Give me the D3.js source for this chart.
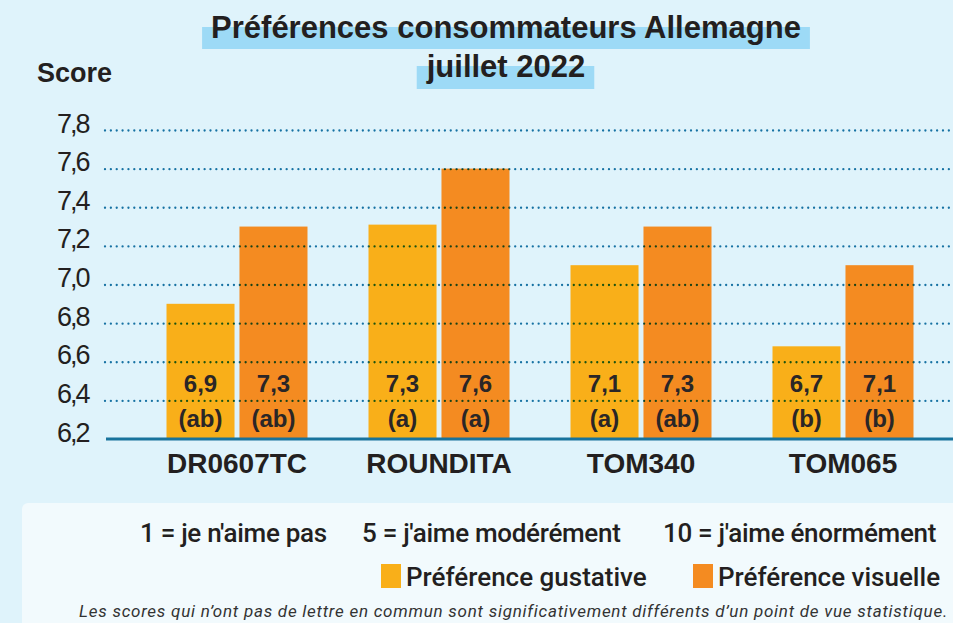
<!doctype html>
<html>
<head>
<meta charset="utf-8">
<script src="https://cdnjs.cloudflare.com/ajax/libs/d3/7.8.5/d3.min.js"></script>
<style>
  body { margin: 0; background: #dff3fb; }
  svg { display: block; font-family: "Liberation Sans", Arial, sans-serif; }
  .legend { font-family: Roboto, "Liberation Sans", sans-serif; }
</style>
</head>
<body>
<div id="viz"><svg width="953" height="623"></svg></div>
<script>
var categories = ["DR0607TC", "ROUNDITA", "TOM340", "TOM065"];
var series = ["Préférence gustative", "Préférence visuelle"];
var gustative = [6.9, 7.31, 7.1, 6.68];
var visuelle = [7.3, 7.6, 7.3, 7.1];
var labelsGustative = ["6,9", "7,3", "7,1", "6,7"];
var labelsVisuelle = ["7,3", "7,6", "7,3", "7,1"];
var lettersGustative = ["(ab)", "(a)", "(a)", "(b)"];
var lettersVisuelle = ["(ab)", "(a)", "(ab)", "(b)"];
var yTicks = [6.2, 6.4, 6.6, 6.8, 7.0, 7.2, 7.4, 7.6, 7.8];
var scaleNotes = ["1 = je n'aime pas", "5 = j'aime modérément", "10 = j'aime énormément"];

var colors = ["#f9af19", "#f48b21"];
var ink = "#231f20";

var svg = d3.select("svg");

var y = d3.scaleLinear().domain([6.2, 7.8]).range([439, 130]);
var x0 = d3.scaleBand().domain(categories).range([136, 944])
  .paddingInner(0.302).paddingOuter(0.151);
var x1 = d3.scaleBand().domain(series).range([0, x0.bandwidth()]).paddingInner(0.068);
var color = d3.scaleOrdinal().domain(series).range(colors);

// title with highlight bands
var titleLines = ["Préférences consommateurs Allemagne", "juillet 2022"];
var titleY = [38, 77];
var tg = svg.append("g");
titleLines.forEach(function (t, i) {
  var band = tg.append("rect").attr("fill", "#9ddaf6");
  var txt = tg.append("text")
    .attr("x", 506).attr("y", titleY[i])
    .attr("text-anchor", "middle")
    .style("font-size", "31px").style("font-weight", "bold")
    .attr("fill", ink).text(t);
  var b = txt.node().getBBox();
  band.attr("x", b.x - 9).attr("width", b.width + 18)
    .attr("y", titleY[i] - 11).attr("height", 22 + i);
});

svg.append("text").attr("x", 37).attr("y", 82)
  .style("font-size", "27px").style("font-weight", "bold")
  .attr("fill", ink).text("Score");

// bars
var rows = categories.map(function (c, i) {
  return [
    { cat: c, key: series[0], v: gustative[i], lab: labelsGustative[i], let: lettersGustative[i] },
    { cat: c, key: series[1], v: visuelle[i], lab: labelsVisuelle[i], let: lettersVisuelle[i] }
  ];
});

var groups = svg.append("g").selectAll("g")
  .data(rows).enter().append("g")
  .attr("transform", function (d) { return "translate(" + x0(d[0].cat) + ",0)"; });

groups.selectAll("rect")
  .data(function (d) { return d; })
  .enter().append("rect")
  .attr("x", function (d) { return x1(d.key); })
  .attr("width", x1.bandwidth())
  .attr("y", function (d) { return y(d.v); })
  .attr("height", function (d) { return y(6.2) - y(d.v); })
  .attr("fill", function (d) { return color(d.key); });

// dotted grid, drawn over the bars
var grid = svg.append("g")
  .attr("transform", "translate(105,0)")
  .style("mix-blend-mode", "multiply")
  .call(d3.axisRight(y).tickValues(yTicks.slice(1)).tickSize(848).tickFormat(""));
grid.select(".domain").remove();
grid.selectAll("line")
  .attr("stroke", "#1a78a6")
  .attr("stroke-width", 2.3)
  .attr("stroke-linecap", "round")
  .attr("stroke-dasharray", "0.01 5.85");

// value labels
var vl = groups.selectAll(".val")
  .data(function (d) { return d; })
  .enter().append("g").attr("class", "val");
vl.append("text")
  .attr("x", function (d) { return x1(d.key) + x1.bandwidth() / 2; })
  .attr("y", y(6.2) - 47)
  .text(function (d) { return d.lab; });
vl.append("text")
  .attr("x", function (d) { return x1(d.key) + x1.bandwidth() / 2; })
  .attr("y", y(6.2) - 12)
  .text(function (d) { return d.let; });
vl.selectAll("text")
  .attr("text-anchor", "middle")
  .style("font-size", "24px").style("font-weight", "bold")
  .attr("fill", "#2a2627");

// y tick labels
var ya = svg.append("g")
  .attr("transform", "translate(57,0)")
  .call(d3.axisLeft(y).tickValues(yTicks).tickSize(0)
    .tickFormat(function (d) { return d.toFixed(1).replace(".", ","); }));
ya.select(".domain").remove();
ya.selectAll("text")
  .attr("x", 0).attr("dy", "2px")
  .attr("text-anchor", "start")
  .style("font-size", "27px").style("font-family", "'Liberation Sans', Arial, sans-serif")
  .style("letter-spacing", "-2px")
  .attr("fill", ink);

// x axis
svg.append("line")
  .attr("x1", 106).attr("x2", 953)
  .attr("y1", y(6.2)).attr("y2", y(6.2))
  .attr("stroke", "#18739c").attr("stroke-width", 3);
var xa = svg.append("g")
  .attr("transform", "translate(0," + y(6.2) + ")")
  .call(d3.axisBottom(x0).tickSize(0));
xa.select(".domain").remove();
xa.selectAll("text")
  .attr("y", 34).attr("dy", 0)
  .style("font-size", "28px").style("font-weight", "bold")
  .style("font-family", "'Liberation Sans', Arial, sans-serif")
  .attr("fill", ink);

// legend panel
var lg = svg.append("g").attr("class", "legend");
lg.append("rect").attr("x", 22).attr("y", 503).attr("width", 960).attr("height", 140)
  .attr("rx", 6).attr("fill", "#f2fafd");

var noteX = [140, 362, 663];
lg.selectAll(".note").data(scaleNotes).enter().append("text")
  .attr("class", "note")
  .attr("x", function (d, i) { return noteX[i]; }).attr("y", 542)
  .style("font-size", "26px").style("font-weight", 500)
  .style("letter-spacing", "-0.3px")
  .attr("fill", ink).text(function (d) { return d; });

var keyX = [381, 693];
var keys = lg.selectAll(".key").data(series).enter().append("g")
  .attr("class", "key")
  .attr("transform", function (d, i) { return "translate(" + keyX[i] + ",0)"; });
keys.append("rect").attr("x", 0).attr("y", 564).attr("width", 20).attr("height", 24)
  .attr("fill", function (d) { return color(d); });
keys.append("text").attr("x", 25).attr("y", 586)
  .style("font-size", "26px").style("font-weight", 500)
  .style("letter-spacing", "0px")
  .attr("fill", ink).text(function (d) { return d; });

lg.append("text").attr("x", 948).attr("y", 617)
  .attr("text-anchor", "end")
  .style("font-size", "17px").style("font-style", "italic")
  .style("letter-spacing", "0.75px")
  .attr("fill", "#333")
  .text("Les scores qui n’ont pas de lettre en commun sont significativement différents d’un point de vue statistique.");
</script>
</body>
</html>
